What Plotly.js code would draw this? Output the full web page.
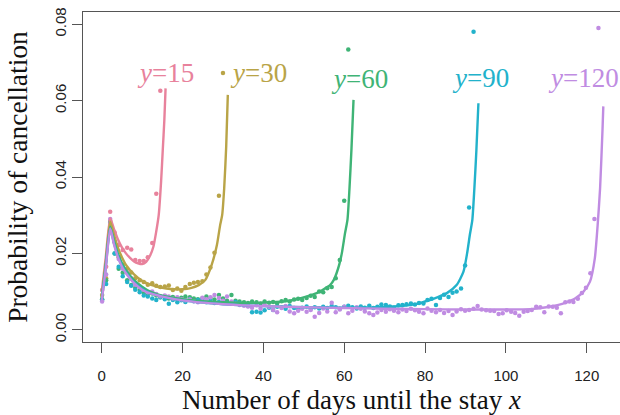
<!DOCTYPE html>
<html>
<head>
<meta charset="utf-8">
<script src="https://cdn.plot.ly/plotly-3.0.1.min.js"></script>
<style>html,body{margin:0;padding:0;background:#fff;}#chart{width:620px;height:415px;}</style>
</head>
<body>
<div id="chart"></div>
<script>
const dayPos = [
 0.1, 1.1, 2.1, 3.2, 4.2, 5.2, 6.3, 7.3, 8.3, 9.4,
 10.4, 11.4, 12.5, 13.5, 14.5, 15.6, 16.6, 17.6, 18.7, 19.7,
 20.7, 21.8, 22.8, 23.8, 24.9, 25.9, 26.9, 27.9, 29.0, 30.0,
 31.0, 32.1, 33.1, 34.1, 35.2, 36.2, 37.2, 38.3, 39.3, 40.3,
 41.4, 42.4, 43.4, 44.5, 45.5, 46.5, 47.6, 48.6, 49.6, 50.7,
 51.7, 52.7, 53.8, 54.8, 55.8, 56.9, 57.9, 58.9, 60.0, 61.0,
 62.0, 63.1, 64.1, 65.1, 66.2, 67.2, 68.2, 69.2, 70.3, 71.3,
 72.3, 73.4, 74.4, 75.4, 76.5, 77.5, 78.5, 79.6, 80.6, 81.6,
 82.7, 83.7, 84.7, 85.8, 86.8, 87.8, 88.9, 89.9, 90.9, 92.0,
 93.0, 94.0, 95.1, 96.1, 97.1, 98.2, 99.2, 100.2, 101.3, 102.3,
 103.3, 104.4, 105.4, 106.4, 107.5, 108.5, 109.5, 110.6, 111.6, 112.6,
 113.6, 114.7, 115.7, 116.7, 117.8, 118.8, 119.8, 120.9, 121.9, 122.9
];

// Observed cancellation probabilities
const obs15 = [0.0104, 0.0165, 0.0309, 0.0255, 0.0222, 0.0209, 0.0215, 0.0210, 0.0183, 0.0180,
 0.0180, 0.0190, 0.0227, 0.0356, 0.0626];
const obs30 = [0.0091, 0.0135, 0.0285, 0.0230, 0.0190, 0.0170, 0.0160, 0.0150, 0.0135, 0.0130,
 0.0125, 0.0118, 0.0122, 0.0115, 0.0112, 0.0113, 0.0116, 0.0104, 0.0108, 0.0102,
 0.0112, 0.0120, 0.0123, 0.0125, 0.0127, 0.0145, 0.0163, 0.0202, 0.0351, 0.0672];
const obs60 = [0.0080, 0.0130, 0.0275, 0.0200, 0.0160, 0.0149, 0.0130, 0.0117, 0.0110, 0.0104,
 0.0096, 0.0093, 0.0095, 0.0090, 0.0085, 0.0088, 0.0082, 0.0086, 0.0080, 0.0084,
 0.0087, 0.0085, 0.0082, 0.0080, 0.0082, 0.0087, 0.0083, 0.0079, 0.0091, 0.0082,
 0.0076, 0.0091, 0.0076, 0.0074, 0.0072, 0.0070, 0.0074, 0.0072, 0.0069, 0.0074,
 0.0071, 0.0073, 0.0069, 0.0075, 0.0078, 0.0074, 0.0079, 0.0081, 0.0078, 0.0083,
 0.0089, 0.0086, 0.0100, 0.0098, 0.0109, 0.0112, 0.0135, 0.0183, 0.0338, 0.0734];
const obs90 = [0.0078, 0.0120, 0.0280, 0.0200, 0.0165, 0.0140, 0.0125, 0.0115, 0.0105, 0.0098,
 0.0090, 0.0087, 0.0082, 0.0078, 0.0085, 0.0080, 0.0068, 0.0078, 0.0072, 0.0077,
 0.0073, 0.0080, 0.0075, 0.0078, 0.0079, 0.0072, 0.0076, 0.0070, 0.0073, 0.0071,
 0.0070, 0.0068, 0.0073, 0.0069, 0.0066, 0.0062, 0.0046, 0.0047, 0.0045, 0.0051,
 0.0058, 0.0052, 0.0060, 0.0059, 0.0055, 0.0062, 0.0057, 0.0054, 0.0058, 0.0061,
 0.0055, 0.0059, 0.0056, 0.0060, 0.0057, 0.0062, 0.0059, 0.0055, 0.0060, 0.0063,
 0.0059, 0.0056, 0.0061, 0.0058, 0.0063, 0.0057, 0.0060, 0.0066, 0.0065, 0.0061,
 0.0058, 0.0064, 0.0065, 0.0067, 0.0069, 0.0066, 0.0070, 0.0069, 0.0078, 0.0081,
 0.0065, 0.0083, 0.0092, 0.0086, 0.0097, 0.0100, 0.0108, 0.0168, 0.0320, 0.0780];
const obs120 = [0.0074, 0.0145, 0.0290, 0.0230, 0.0185, 0.0160, 0.0150, 0.0135, 0.0118, 0.0112,
 0.0105, 0.0098, 0.0100, 0.0094, 0.0088, 0.0090, 0.0087, 0.0082, 0.0085, 0.0080,
 0.0077, 0.0079, 0.0075, 0.0072, 0.0084, 0.0080, 0.0085, 0.0091, 0.0083, 0.0076,
 0.0087, 0.0074, 0.0068, 0.0065, 0.0063, 0.0061, 0.0058, 0.0064, 0.0056, 0.0067,
 0.0060, 0.0052, 0.0046, 0.0057, 0.0062, 0.0048, 0.0043, 0.0050, 0.0055, 0.0047,
 0.0052, 0.0034, 0.0044, 0.0056, 0.0048, 0.0071, 0.0046, 0.0053, 0.0060, 0.0043,
 0.0050, 0.0059, 0.0055, 0.0048, 0.0043, 0.0039, 0.0045, 0.0052, 0.0047, 0.0054,
 0.0050, 0.0046, 0.0053, 0.0049, 0.0055, 0.0051, 0.0047, 0.0043, 0.0056, 0.0050,
 0.0046, 0.0052, 0.0044, 0.0049, 0.0039, 0.0048, 0.0054, 0.0050, 0.0052, 0.0055,
 0.0062, 0.0053, 0.0051, 0.0050, 0.0049, 0.0041, 0.0043, 0.0051, 0.0047, 0.0044,
 0.0037, 0.0047, 0.0049, 0.0052, 0.0060, 0.0059, 0.0046, 0.0061, 0.0060, 0.0058,
 0.0043, 0.0072, 0.0074, 0.0073, 0.0081, 0.0096, 0.0110, 0.0148, 0.0290, 0.0790];

// Fitted curves
const fit15X = [0, 1, 2.1, 3, 4, 5, 6, 7, 8, 9, 10, 11, 12, 12.8, 13.5, 14.1, 14.7, 15.1, 15.5, 15.8];
const fit15Y = [0.0100, 0.0190, 0.0292, 0.0265, 0.0237, 0.0216, 0.0200, 0.0188, 0.0179, 0.0174,
 0.0172, 0.0178, 0.0195, 0.0218, 0.0258, 0.0300, 0.0390, 0.0470, 0.0550, 0.0632];
const fit30X = [0, 1, 2.1, 3, 4, 5, 6, 8, 10, 12, 14, 16, 18, 20, 22, 24, 25.6, 27.2, 28.5, 29.3, 29.8, 30.3, 30.8, 31.2];
const fit30Y = [0.0085, 0.0175, 0.0283, 0.0250, 0.0215, 0.0190, 0.0170, 0.0145, 0.0128, 0.0118,
 0.0112, 0.0108, 0.0106, 0.0106, 0.0109, 0.0117, 0.0130, 0.0170, 0.0222, 0.0274,
 0.0300, 0.0370, 0.0480, 0.0615];
const fit60X = [0, 1, 2.1, 3, 4, 5, 6, 8, 10, 12, 15, 20, 25, 30, 35, 40, 45, 48.2, 51, 53.2,
 55.2, 56.5, 57.5, 58.1, 58.8, 59.4, 60.2, 60.8, 61.3, 61.8, 62.3];
const fit60Y = [0.0080, 0.0170, 0.0270, 0.0235, 0.0200, 0.0175, 0.0157, 0.0130, 0.0113, 0.0100,
 0.0089, 0.0080, 0.0075, 0.0072, 0.0070, 0.0071, 0.0074, 0.0080, 0.0088, 0.0096,
 0.0108, 0.0117, 0.0132, 0.0148, 0.0172, 0.0200, 0.0253, 0.0288, 0.0370, 0.0475, 0.0602];
const fit90X = [0, 1, 2.1, 3, 4, 5, 6, 8, 10, 12, 15, 20, 25, 30, 35, 40, 50, 60, 66.4, 70,
 74.6, 78, 81.2, 83, 85.4, 87.8, 89.5, 90.4, 91.1, 91.7, 92.2, 92.7, 93.2];
const fit90Y = [0.0076, 0.0165, 0.0265, 0.0228, 0.0193, 0.0168, 0.0150, 0.0124, 0.0107, 0.0096,
 0.0087, 0.0077, 0.0071, 0.0067, 0.0064, 0.0062, 0.0059, 0.0058, 0.0058, 0.0060,
 0.0063, 0.0068, 0.0078, 0.0085, 0.0096, 0.0117, 0.0152, 0.0200, 0.0250, 0.0288,
 0.0370, 0.0470, 0.0593];
const fit120X = [0, 1, 2.1, 3, 4, 5, 6, 8, 10, 12, 15, 20, 25, 30, 35, 40, 50, 60, 70, 80,
 90, 100, 106, 110, 113, 115, 117.1, 119.2, 120.8, 122, 122.7, 123.3, 123.9, 124.1];
const fit120Y = [0.0075, 0.0160, 0.0265, 0.0225, 0.0190, 0.0165, 0.0148, 0.0122, 0.0105, 0.0095,
 0.0087, 0.0077, 0.0071, 0.0067, 0.0064, 0.0062, 0.0059, 0.0057, 0.0055, 0.0054,
 0.0053, 0.0053, 0.0054, 0.0059, 0.0065, 0.0072, 0.0082, 0.0100, 0.0126, 0.0187,
 0.0274, 0.0370, 0.0523, 0.0585];

const seriesNames = ['y=15', 'y=30', 'y=60', 'y=90', 'y=120'];
const labelX = [15.7, 38.7, 63.7, 93.6, 119.2];
const labelY = [0.0672, 0.0672, 0.0657, 0.0659, 0.0659];
const xTicks = [0, 20, 40, 60, 80, 100, 120];
const yTicks = [0, 0.02, 0.04, 0.06, 0.08];
const yTickText = ['0.00', '0.02', '0.04', '0.06', '0.08'];

const colors = ['#E8829C', '#B9A447', '#3FB476', '#22B2CB', '#C08CE2'];
const obs = [obs15, obs30, obs60, obs90, obs120];
const fitX = [fit15X, fit30X, fit60X, fit90X, fit120X];
const fitY = [fit15Y, fit30Y, fit60Y, fit90Y, fit120Y];

const SERIF = '"Liberation Serif", "Times New Roman", Times, serif';
const SANS = '"Liberation Sans", Arial, Helvetica, sans-serif';

const traces = [];
obs.forEach((v, k) => {
  traces.push({
    type: 'scatter', mode: 'markers',
    x: dayPos.slice(0, v.length), y: v,
    marker: {color: colors[k], size: 4.5, line: {width: 0}},
    hoverinfo: 'skip', showlegend: false
  });
});
fitX.forEach((fx, k) => {
  traces.push({
    type: 'scatter', mode: 'lines',
    x: fx, y: fitY[k],
    line: {color: colors[k], width: 2.4, shape: 'spline', smoothing: 0.6},
    hoverinfo: 'skip', showlegend: false
  });
});

const annotations = seriesNames.map((s, k) => ({
  x: labelX[k], y: labelY[k], xref: 'x', yref: 'y',
  text: '<i>y</i>' + s.slice(1),
  showarrow: false, xanchor: 'center', yanchor: 'middle',
  font: {family: SERIF, size: 27, color: colors[k]}
}));

const layout = {
  width: 620, height: 415,
  margin: {l: 83, r: 0, t: 12, b: 73, pad: 0},
  paper_bgcolor: '#fff', plot_bgcolor: '#fff',
  showlegend: false,
  xaxis: {
    range: [-4.63, 128.23], showgrid: false, zeroline: false,
    showline: true, mirror: true, linecolor: '#555', linewidth: 1,
    ticks: 'outside', ticklen: 10, tickwidth: 1, tickcolor: '#555',
    tickvals: xTicks, ticktext: xTicks.map(String),
    ticklabelstandoff: 10,
    tickfont: {family: SANS, size: 15, color: '#222'},
    title: {text: 'Number of days until the stay <i>x</i>', standoff: 9,
      font: {family: SERIF, size: 27, color: '#111'}}
  },
  yaxis: {
    range: [-0.0032, 0.0832], showgrid: false, zeroline: false,
    showline: true, mirror: false, linecolor: '#555', linewidth: 1,
    ticks: 'outside', ticklen: 10, tickwidth: 1, tickcolor: '#555',
    tickvals: yTicks, ticktext: yTickText, tickangle: -90,
    tickfont: {family: SANS, size: 15, color: '#222'},
    title: {text: 'Probability of cancellation', standoff: 16,
      font: {family: SERIF, size: 27.5, color: '#111'}}
  },
  annotations: annotations
};

Plotly.newPlot('chart', traces, layout, {displayModeBar: false, staticPlot: true});
</script>
</body>
</html>
